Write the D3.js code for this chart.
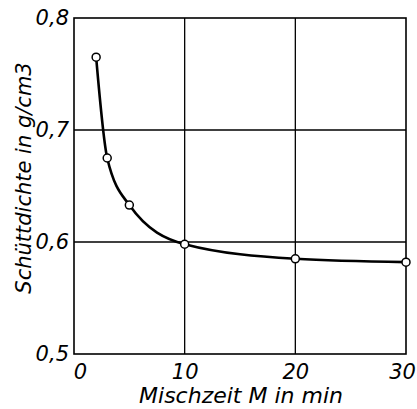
<!DOCTYPE html>
<html>
<head>
<meta charset="utf-8">
<script src="https://cdn.jsdelivr.net/npm/d3@7"></script>
<style>
  body { margin: 0; background: #fff; }
  text { font-family: "DejaVu Sans", sans-serif; font-style: italic; fill: #000; }
</style>
</head>
<body>
<svg id="chart" width="417" height="409"></svg>
<script>
// Mischzeit in min
const mischzeit = [2, 3, 5, 10, 20, 30];
// Schuettdichte in g/cm3
const dichte = [0.765, 0.675, 0.633, 0.598, 0.585, 0.582];
const xTicks = [0, 10, 20, 30];
const yTicks = [0.5, 0.6, 0.7, 0.8];

const margin = { top: 18, right: 11, bottom: 55, left: 74 };
const w = 417;
const h = 409;
const width = w - margin.left - margin.right;
const height = h - margin.top - margin.bottom;

const svg = d3.select('#chart');
const g = svg.append('g').attr('transform', `translate(${margin.left},${margin.top})`);

const x = d3.scaleLinear().domain([0, 30]).range([0, width]);
const y = d3.scaleLinear().domain([0.5, 0.8]).range([height, 0]);

const fmt = d => d3.format('.1f')(d).replace('.', ',');

// grid
g.selectAll('.gx').data(xTicks.slice(1, -1)).enter().append('line')
  .attr('x1', d => x(d)).attr('x2', d => x(d))
  .attr('y1', 0).attr('y2', height)
  .attr('stroke', '#000').attr('stroke-width', 1.3);
g.selectAll('.gy').data(yTicks.slice(1, -1)).enter().append('line')
  .attr('y1', d => y(d)).attr('y2', d => y(d))
  .attr('x1', 0).attr('x2', width)
  .attr('stroke', '#000').attr('stroke-width', 1.3);

// frame
g.append('rect')
  .attr('width', width).attr('height', height)
  .attr('fill', 'none').attr('stroke', '#000').attr('stroke-width', 1.6);

// axes labels
const axisX = d3.axisBottom(x).tickValues(xTicks).tickSize(0).tickPadding(10).tickFormat(d3.format('d'));
const ax = g.append('g').attr('transform', `translate(0,${height})`).call(axisX);
ax.select('.domain').remove();
ax.selectAll('text').attr('font-size', 21).attr('font-family', null)
  .attr('dx', d => (d === 0 ? 6 : d === 30 ? -4 : 0));

const axisY = d3.axisLeft(y).tickValues(yTicks).tickSize(0).tickPadding(5).tickFormat(fmt);
const ay = g.append('g').call(axisY);
ay.select('.domain').remove();
ay.selectAll('text').attr('font-size', 21).attr('font-family', null);

// curve
const pts = mischzeit.map((m, i) => [m, dichte[i]]);
const line = d3.line()
  .x(d => x(d[0]))
  .y(d => y(d[1]))
  .curve(d3.curveMonotoneX);

g.append('path')
  .datum(pts)
  .attr('d', line)
  .attr('fill', 'none')
  .attr('stroke', '#000')
  .attr('stroke-width', 2.6);

g.selectAll('.pt').data(pts).enter().append('circle')
  .attr('cx', d => x(d[0]))
  .attr('cy', d => y(d[1]))
  .attr('r', 4)
  .attr('fill', '#fff')
  .attr('stroke', '#000')
  .attr('stroke-width', 1.5);

// titles
svg.append('text')
  .attr('x', 241).attr('y', 403)
  .attr('text-anchor', 'middle')
  .attr('font-size', 22)
  .text('Mischzeit M in min');

svg.append('text')
  .attr('transform', 'translate(31,178) rotate(-90)')
  .attr('text-anchor', 'middle')
  .attr('font-size', 21)
  .text('Schüttdichte in g/cm3');
</script>
</body>
</html>
